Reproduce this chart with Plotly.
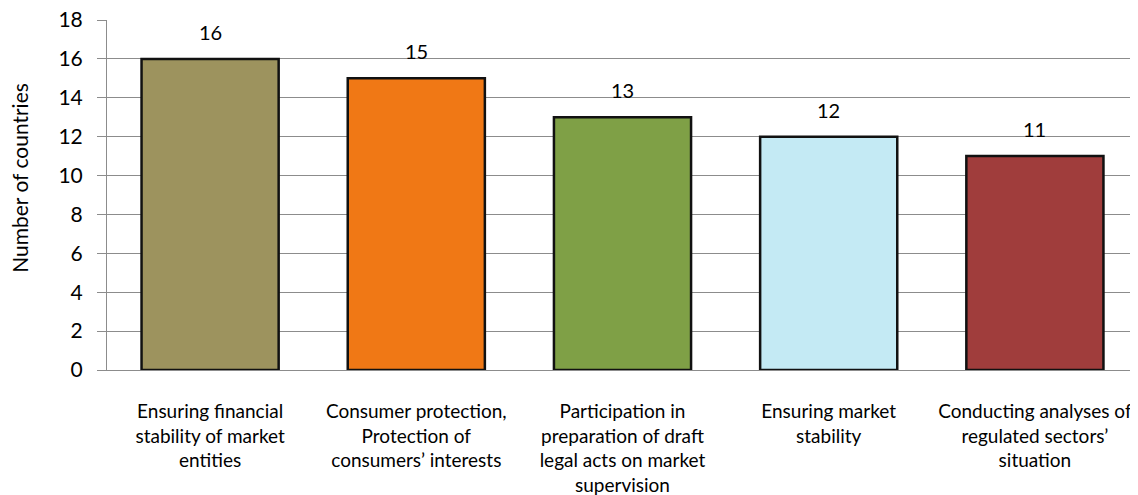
import plotly.graph_objects as go

categories = [
    "Ensuring financial<br>stability of market<br>entities",
    "Consumer protection,<br>Protection of<br>consumers’ interests",
    "Participation in<br>preparation of draft<br>legal acts on market<br>supervision",
    "Ensuring market<br>stability",
    "Conducting analyses of<br>regulated sectors’<br>situation",
]
counts = [16, 15, 13, 12, 11]
bar_colors = ["#9D935E", "#F07815", "#7FA046", "#C4EAF4", "#A03D3C"]

fig = go.Figure()
fig.add_trace(go.Bar(
    x=categories,
    y=counts,
    width=0.665,
    marker=dict(color=bar_colors, line=dict(color="#111111", width=2.5)),
    showlegend=False,
))

for c, v in zip(categories, counts):
    fig.add_annotation(x=c, y=v, text=str(v), showarrow=False, yshift=27,
                       font=dict(size=20, color="#000000"))

# y-axis title placed by hand (sits a bit above the plot centre in the original)
fig.add_annotation(xref="paper", yref="paper", x=0, y=0.549, xshift=-87,
                   text="Number of countries", textangle=-90, showarrow=False,
                   xanchor="center", yanchor="middle", font=dict(size=21))

# the page body adds an 8px offset, so margins are shifted to compensate
fig.update_layout(
    width=1138, height=495,
    margin=dict(l=99, r=8, t=12, b=133),
    plot_bgcolor="white", paper_bgcolor="white",
    font=dict(family="Lato, Open Sans, sans-serif", color="#000000"),
    bargap=0.335,
)
fig.update_yaxes(
    range=[0, 18], dtick=2, automargin=False,
    showgrid=True, gridcolor="#8C8C8C", gridwidth=1,
    showline=True, linecolor="#8C8C8C", linewidth=1,
    ticks="outside", ticklen=9, tickcolor="#8C8C8C",
    tickfont=dict(size=21), ticklabelstandoff=10, ticklabeloverflow="allow",
    zeroline=False,
)
fig.update_xaxes(
    automargin=False,
    showline=True, linecolor="#8C8C8C", linewidth=1,
    tickfont=dict(size=19), tickangle=0,
    ticks="", ticklabelstandoff=24,
)

fig.write_html("out.html")
